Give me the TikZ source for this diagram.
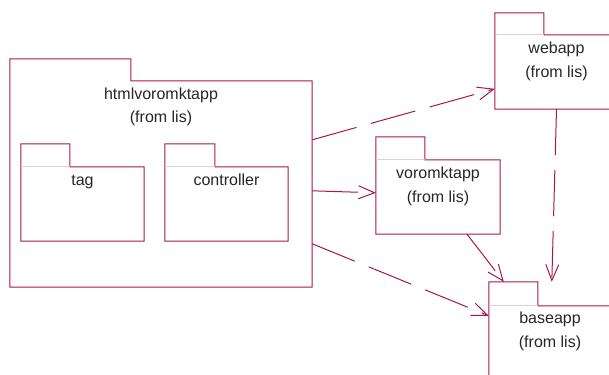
\documentclass[tikz,border=0pt]{standalone}
\usepackage{fontspec}
\setmainfont{Liberation Sans}
\usetikzlibrary{arrows.meta}
\definecolor{rose}{RGB}{168,22,78}
\definecolor{roselight}{RGB}{234,200,214}
\tikzset{
  body/.style={draw=none, inner sep=0pt, rectangle},
  pkgline/.style={draw=rose, line width=1bp, line join=miter},
  tabline/.style={draw=roselight, line width=1bp},
  lbl/.style={anchor=base, inner sep=0pt, text=black!85,
    font=\fontsize{16bp}{19bp}\selectfont},
  dep/.style={draw=rose, line width=1bp, dash pattern=on 46bp off 15bp,
    -{Straight Barb[length=16bp, width=13bp, line width=1bp]}},
}
\begin{document}
\begin{tikzpicture}[x=1bp, y=-1bp]
\useasboundingbox (0,0) rectangle (609,374);

% package bodies (anchors for the connectors)
\node[body, minimum width=302bp, minimum height=206bp] (htm) at (161,184) {};
\node[body, minimum width=123bp, minimum height=74bp] (tag) at (82.5,204) {};
\node[body, minimum width=123bp, minimum height=74bp] (ctl) at (226.5,204) {};
\node[body, minimum width=123bp, minimum height=74bp] (web) at (556.5,72) {};
\node[body, minimum width=124bp, minimum height=74bp] (vor) at (438,197) {};
\node[body, minimum width=122bp, minimum height=74bp] (base) at (550,343) {};

% folder outlines: tab on the upper left, body below
\draw[pkgline] (htm.south west) -- ([yshift=22bp]htm.north west) -- ++(121,0)
  -- ([xshift=121bp]htm.north west) -- (htm.north east) -- (htm.south east) -- cycle;

\draw[pkgline] (tag.south west) -- ([yshift=23bp]tag.north west) -- ++(49,0)
  -- ([xshift=49bp]tag.north west) -- (tag.north east) -- (tag.south east) -- cycle;
\draw[tabline] ([xshift=0.5bp]tag.north west) -- ([xshift=49bp]tag.north west);

\draw[pkgline] (ctl.south west) -- ([yshift=23bp]ctl.north west) -- ++(50,0)
  -- ([xshift=50bp]ctl.north west) -- (ctl.north east) -- (ctl.south east) -- cycle;
\draw[tabline] ([xshift=0.5bp]ctl.north west) -- ([xshift=50bp]ctl.north west);

\draw[pkgline] (web.south west) -- ([yshift=22bp]web.north west) -- ++(49,0)
  -- ([xshift=49bp]web.north west) -- (web.north east) -- (web.south east) -- cycle;
\draw[tabline] ([xshift=0.5bp]web.north west) -- ([xshift=49bp]web.north west);

\draw[pkgline] (vor.south west) -- ([yshift=23bp]vor.north west) -- ++(49,0)
  -- ([xshift=49bp]vor.north west) -- (vor.north east) -- (vor.south east) -- cycle;
\draw[tabline] ([xshift=0.5bp]vor.north west) -- ([xshift=49bp]vor.north west);

\draw[pkgline] (base.south west) -- ([yshift=24bp]base.north west) -- ++(49,0)
  -- ([xshift=49bp]base.north west) -- (base.north east) -- (base.south east) -- cycle;
\draw[tabline] ([xshift=0.5bp]base.north west) -- ([xshift=49bp]base.north west);

% names
\node[lbl] (htmname) at (161,99) {htmlvoromktapp};
\node[lbl] (htmfrom) at (161,122) {(from lis)};
\node[lbl] (tagname) at (82.5,185) {tag};
\node[lbl] (ctlname) at (226.5,185) {controller};
\node[lbl] (webname) at (556.5,53) {webapp};
\node[lbl] (webfrom) at (556.5,77) {(from lis)};
\node[lbl] (vorname) at (438,178) {voromktapp};
\node[lbl] (vorfrom) at (438,202) {(from lis)};
\node[lbl] (basename) at (550,323) {baseapp};
\node[lbl] (basefrom) at (550,347) {(from lis)};

% dependencies
\draw[dep] ([yshift=-59bp]htm.north east) -- ([yshift=-54bp]web.north west);
\draw[dep] ([yshift=-110bp]htm.north east) -- ([yshift=-33bp]vor.north west);
\draw[dep] ([yshift=-163bp]htm.north east) -- ([yshift=-10bp]base.north west);
\draw[dep] ([xshift=29bp]vor.south) -- ([shift={(15bp,24bp)}]base.north west);
\draw[dep] (web.south) -- ([shift={(63bp,24bp)}]base.north west);
\end{tikzpicture}
\end{document}
